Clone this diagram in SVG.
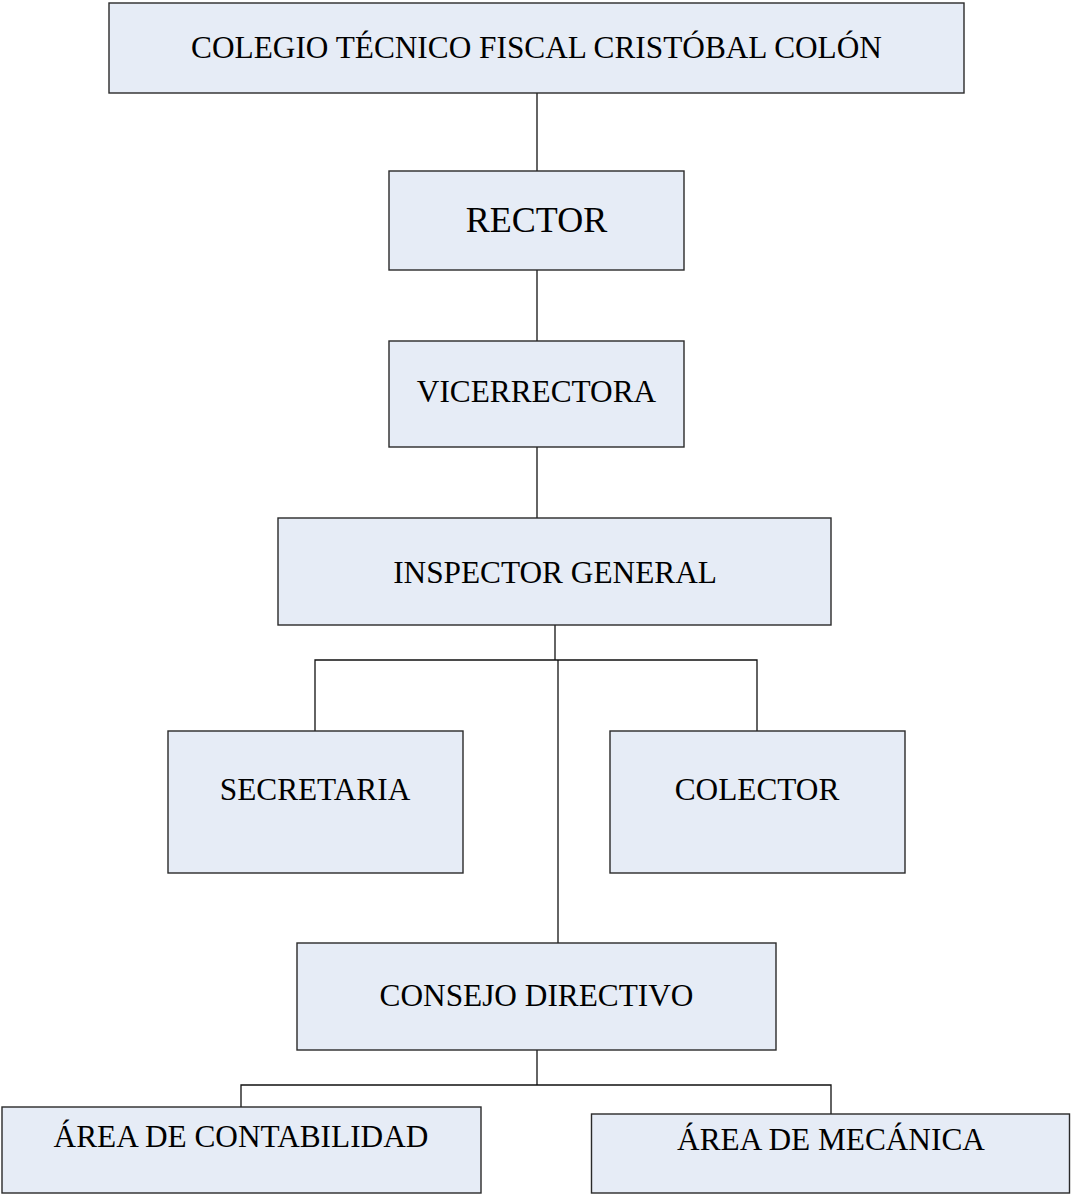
<svg xmlns="http://www.w3.org/2000/svg" width="1071" height="1194" viewBox="0 0 1071 1194">
<style>
.box{fill:#e6ecf6;stroke:#2a2a2a;stroke-width:1.4}
.t{font-family:"Liberation Serif","Times New Roman",serif;font-size:31.3px;fill:#000;text-anchor:middle}
.big{font-size:36px}
.c{fill:none;stroke:#111;stroke-width:1.3}
</style>
<rect width="1071" height="1194" fill="#fff"/>
<g id="connectors">
<path class="c" d="M537 93V171"/>
<path class="c" d="M537 270V341"/>
<path class="c" d="M537 447V518"/>
<path class="c" d="M555 625V660"/>
<path class="c" d="M315 731V660H757V731"/>
<path class="c" d="M558 660V943"/>
<path class="c" d="M537 1050V1085"/>
<path class="c" d="M241 1107V1085H831V1114"/>
</g>
<g id="colegio"><rect class="box" x="109" y="3" width="855" height="90"/><text class="t" x="536.5" y="58">COLEGIO TÉCNICO FISCAL CRISTÓBAL COLÓN</text></g>
<g id="rector"><rect class="box" x="389" y="171" width="295" height="99"/><text class="t big" x="536.5" y="232">RECTOR</text></g>
<g id="vicerrectora"><rect class="box" x="389" y="341" width="295" height="106"/><text class="t" x="536.5" y="402">VICERRECTORA</text></g>
<g id="inspector"><rect class="box" x="278" y="518" width="553" height="107"/><text class="t" x="555" y="583">INSPECTOR GENERAL</text></g>
<g id="secretaria"><rect class="box" x="168" y="731" width="295" height="142"/><text class="t" x="315" y="800">SECRETARIA</text></g>
<g id="colector"><rect class="box" x="610" y="731" width="295" height="142"/><text class="t" x="757" y="800">COLECTOR</text></g>
<g id="consejo"><rect class="box" x="297" y="943" width="479" height="107"/><text class="t" x="536.5" y="1006">CONSEJO DIRECTIVO</text></g>
<g id="contabilidad"><rect class="box" x="2" y="1107" width="479" height="86"/><text class="t" x="241" y="1147">ÁREA DE CONTABILIDAD</text></g>
<g id="mecanica"><rect class="box" x="591.5" y="1114" width="478" height="79"/><text class="t" x="831" y="1150">ÁREA DE MECÁNICA</text></g>
</svg>
